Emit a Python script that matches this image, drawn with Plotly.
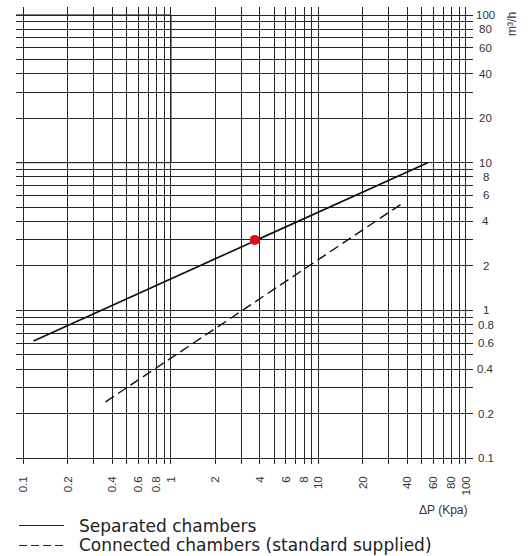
import numpy as np
import plotly.graph_objects as go

# Flow-rate characteristic curves: pressure drop ΔP (kPa) vs flow rate (m³/h)
separated_dp = [0.117, 55]
separated_q = [0.62, 10]
connected_dp = [0.36, 36]
connected_q = [0.24, 5.2]

# highlighted operating point on the separated-chambers curve
point_dp = [3.7]
point_q = [3.0]

# log-grid positions and the ones that carry a label
grid_vals = [m * 10.0 ** e for e in (-1, 0, 1) for m in range(1, 10)] + [100]
label_vals = [0.1, 0.2, 0.4, 0.6, 0.8, 1, 2, 4, 6, 8, 10, 20, 40, 60, 80, 100]
label_text = ["0.1", "0.2", "0.4", "0.6", "0.8", "1", "2", "4", "6", "8",
              "10", "20", "40", "60", "80", "100"]

legend_names = ["Separated chambers", "Connected chambers (standard supplied)"]

X_RANGE = [-1.0508, 2.0475]
Y_RANGE = [-1.0406, 2.0542]

AXIS_FONT = dict(family="Liberation Sans, Arial, sans-serif", size=11.5, color="#333333")
SMALL_FONT = dict(family="Liberation Sans, Arial, sans-serif", size=12, color="#333333")
LEGEND_FONT = dict(family="DejaVu Sans, sans-serif", size=17, color="#222222")
GRID_COLOR = "#262626"


def fmt(v):
    return label_text[label_vals.index(v)] if v in label_vals else ""


x_ticktext = [fmt(round(v, 6)) for v in grid_vals]

fig = go.Figure()

fig.add_trace(go.Scatter(
    x=separated_dp, y=separated_q, mode="lines",
    line=dict(color="#111111", width=1.7),
    name=legend_names[0], showlegend=False,
))
fig.add_trace(go.Scatter(
    x=connected_dp, y=connected_q, mode="lines",
    line=dict(color="#111111", width=1.4, dash="10px,5px"),
    name=legend_names[1], showlegend=False,
))
fig.add_trace(go.Scatter(
    x=point_dp, y=point_q, mode="markers",
    marker=dict(color="#e30a17", size=10, line=dict(width=0)),
    showlegend=False,
))

# darker frame around the upper-left block of the grid
x_left = 10 ** X_RANGE[0]
frame = dict(type="line", xref="x", yref="y", layer="below",
             line=dict(color="#000000", width=1))
fig.add_shape(**frame, x0=x_left, x1=1, y0=100, y1=100)
fig.add_shape(**frame, x0=x_left, x1=1, y0=10, y1=10)
fig.add_shape(**frame, x0=1, x1=1, y0=10, y1=100)

# flow-rate labels on the right, centred in a column
for v, t in zip(label_vals, label_text):
    fig.add_annotation(
        x=1.0284, xref="paper", y=np.log10(v), yref="y",
        text=t, showarrow=False, xanchor="center", yanchor="middle",
        font=AXIS_FONT,
    )

fig.add_annotation(
    x=1.0853, xref="paper", y=0.963, yref="paper",
    text="m³/h", textangle=-90, showarrow=False,
    xanchor="center", yanchor="middle", font=SMALL_FONT,
)
fig.add_annotation(
    x=0.991, xref="paper", y=-0.1007, yref="paper",
    text="ΔP (Kpa)", showarrow=False, xanchor="right", yanchor="middle",
    font=SMALL_FONT,
)

# legend drawn below the chart
legend_rows = [-0.1346, -0.1783]
legend_dash = ["solid", "8px,4px"]
for name, yrow, dash in zip(legend_names, legend_rows, legend_dash):
    fig.add_shape(type="line", xref="paper", yref="paper",
                  x0=0.0066, x1=0.105, y0=yrow, y1=yrow,
                  line=dict(color="#222222", width=1, dash=dash))
    fig.add_annotation(
        x=0.1335, xref="paper", y=yrow, yref="paper",
        text=name, showarrow=False, xanchor="left", yanchor="middle",
        font=LEGEND_FONT,
    )

fig.update_xaxes(
    type="log", range=X_RANGE,
    tickmode="array", tickvals=grid_vals, ticktext=x_ticktext,
    tickangle=-90, tickfont=AXIS_FONT, ticks="", ticklabelstandoff=9,
    showgrid=True, gridcolor=GRID_COLOR, gridwidth=1,
    showline=False, zeroline=False, fixedrange=True,
)
fig.update_yaxes(
    type="log", range=Y_RANGE,
    tickmode="array", tickvals=grid_vals, showticklabels=False, ticks="",
    showgrid=True, gridcolor=GRID_COLOR, gridwidth=1,
    showline=False, zeroline=False, fixedrange=True,
)

fig.update_layout(
    width=531, height=556, autosize=False,
    margin=dict(l=16, r=58, t=7, b=92, pad=0),
    paper_bgcolor="white", plot_bgcolor="white",
    showlegend=False,
)

fig.write_html("out.html", config={"displayModeBar": False})
